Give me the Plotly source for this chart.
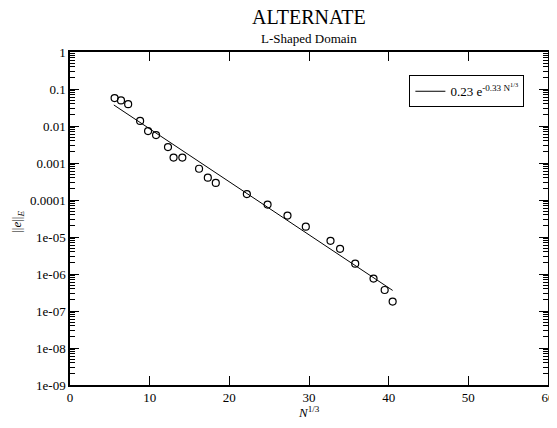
import plotly.graph_objects as go

# data
n13 = [5.6, 6.4, 7.3, 8.8, 9.8, 10.8, 12.3, 13.0, 14.1, 16.2, 17.3, 18.3,
       22.2, 24.8, 27.3, 29.6, 32.7, 33.9, 35.8, 38.1, 39.5, 40.5]
err = [0.057, 0.049, 0.039, 0.0137, 0.0073, 0.0057, 0.0027, 0.0014, 0.0014,
       0.0007, 0.0004, 0.00029, 0.000145, 7.5e-5, 3.8e-5, 1.9e-5, 7.9e-6,
       4.8e-6, 1.9e-6, 7.5e-7, 3.7e-7, 1.8e-7]

fit_x = [5.5, 40.5]
fit_y = [0.037, 3.6e-7]

y_tickvals = [1, 0.1, 0.01, 0.001, 0.0001, 1e-5, 1e-6, 1e-7, 1e-8, 1e-9]
y_ticktext = ["1", "0.1", "0.01", "0.001", "0.0001", "1e-05", "1e-06",
              "1e-07", "1e-08", "1e-09"]
x_tickvals = [0, 10, 20, 30, 40, 50, 60]

serif = "Liberation Serif"

fig = go.Figure()
fig.add_trace(go.Scatter(
    x=fit_x, y=fit_y, mode="lines",
    line=dict(color="black", width=1),
    name="0.23 e<sup>-0.33 N<sup>1/3</sup></sup>",
))
fig.add_trace(go.Scatter(
    x=n13, y=err, mode="markers",
    marker=dict(symbol="circle-open", size=7, color="black",
                line=dict(width=1.2, color="black")),
    showlegend=False,
))

# page body has an 8px margin, so the figure is a bit smaller than the window
fig.update_layout(
    width=549, height=420,
    margin=dict(l=62, r=9, t=44, b=43, autoexpand=False),
    paper_bgcolor="white", plot_bgcolor="white",
    font=dict(family=serif, size=13, color="black"),
    legend=dict(
        x=0.71, y=0.93, xanchor="left", yanchor="top",
        bordercolor="black", borderwidth=1, bgcolor="white",
        font=dict(size=13, family=serif),
    ),
)

ph, pw = 333, 478
fig.add_annotation(text="ALTERNATE", x=0.5, xref="paper",
                   y=1 + 35 / ph, yref="paper", yanchor="middle",
                   showarrow=False, font=dict(size=20, family=serif))
fig.add_annotation(text="L-Shaped Domain", x=0.5, xref="paper",
                   y=1 + 14 / ph, yref="paper", yanchor="middle",
                   showarrow=False, font=dict(size=13, family=serif))
fig.add_annotation(text="<i>N</i><sup>1/3</sup>", x=0.5, xref="paper",
                   y=-27 / ph, yref="paper", yanchor="middle",
                   showarrow=False, font=dict(size=13, family=serif))
fig.add_annotation(text="||<i>e</i>||<sub><i>E</i></sub>",
                   x=-52 / pw, xref="paper", xanchor="center",
                   y=0.49, yref="paper", yanchor="middle",
                   showarrow=False, textangle=-90,
                   font=dict(size=13, family=serif))

fig.update_xaxes(
    range=[0, 60], tickvals=x_tickvals, automargin=False,
    showgrid=False, zeroline=False,
    showline=True, linecolor="black", linewidth=1.5, mirror="allticks",
    ticks="inside", ticklen=9, tickcolor="black",
)
fig.update_yaxes(
    type="log", range=[-9, 0], automargin=False,
    tickvals=y_tickvals, ticktext=y_ticktext,
    showgrid=False, zeroline=False,
    showline=True, linecolor="black", linewidth=1.5, mirror="allticks",
    ticks="inside", ticklen=9, tickcolor="black",
    minor=dict(ticks="inside", ticklen=5, tickcolor="black", dtick="D1",
               showgrid=False),
)

fig.write_html("out.html")
